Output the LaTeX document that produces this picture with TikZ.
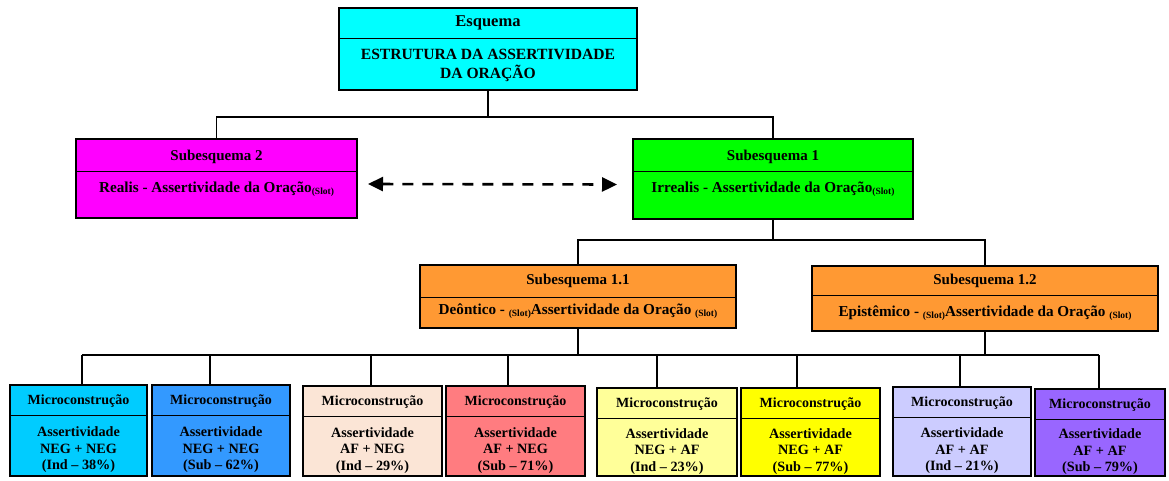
\documentclass[tikz,border=0pt]{standalone}
\usepackage{fontspec}
\setmainfont{Liberation Serif}
\usetikzlibrary{arrows.meta}
\definecolor{cEsq}{HTML}{00FFFF}
\definecolor{cSubB}{HTML}{FF00FF}
\definecolor{cSubA}{HTML}{00FF00}
\definecolor{cOr}{HTML}{FF9933}
\definecolor{cMa}{HTML}{00CCFF}
\definecolor{cMb}{HTML}{3399FF}
\definecolor{cMc}{HTML}{FBE5D6}
\definecolor{cMd}{HTML}{FF7C80}
\definecolor{cMe}{HTML}{FFFF99}
\definecolor{cMf}{HTML}{FFFF00}
\definecolor{cMg}{HTML}{CCCCFF}
\definecolor{cMh}{HTML}{9966FF}
\newcommand\slotsub{\raisebox{-2.4pt}{\fontsize{9.5}{9.5}\selectfont(Slot)}}
\tikzset{
  frame/.style={draw=black, line width=2.6pt, inner sep=0pt, outer sep=0pt, anchor=north west},
  divider/.style={line width=0.9pt},
  conn/.style={line width=1.7pt},
  ttl/.style={font=\bfseries\fontsize{15}{18}\selectfont, inner sep=0pt, align=center},
  bod/.style={font=\bfseries\fontsize{15.2}{19}\selectfont, inner sep=0pt, align=center},
  mttl/.style={font=\bfseries\fontsize{14}{16}\selectfont, inner sep=0pt, align=center},
  mbod/.style={font=\bfseries\fontsize{14.2}{16.5}\selectfont, inner sep=0pt, align=center},
}
\begin{document}
\begin{tikzpicture}[x=1pt,y=-1pt]
\useasboundingbox (0,0) rectangle (1169,480);

% Esquema
\node[frame, fill=cEsq, minimum width=298pt, minimum height=82pt] (esq) at (339,8) {};
\draw[divider] ([yshift=-30pt]esq.north west) -- ([yshift=-30pt]esq.north east);
\node[ttl, font=\bfseries\fontsize{16.5}{18}\selectfont] (esqT) at ([yshift=-15pt]esq.north) {Esquema};
\node[bod, font=\bfseries\fontsize{15.6}{19}\selectfont] (esqB) at ([yshift=-57pt]esq.north) {ESTRUTURA DA ASSERTIVIDADE\\DA ORAÇÃO};

% Subesquema 2
\node[frame, fill=cSubB, minimum width=281pt, minimum height=79pt] (sub2) at (76,139) {};
\draw[divider] ([yshift=-32pt]sub2.north west) -- ([yshift=-32pt]sub2.north east);
\node[ttl] (sub2T) at ([yshift=-18pt]sub2.north) {Subesquema 2};
\node[bod] (sub2B) at ([yshift=-50pt]sub2.north) {Realis - Assertividade da Oração\slotsub};

% Subesquema 1
\node[frame, fill=cSubA, minimum width=280pt, minimum height=80pt] (sub1) at (633,139) {};
\draw[divider] ([yshift=-32pt]sub1.north west) -- ([yshift=-32pt]sub1.north east);
\node[ttl] (sub1T) at ([yshift=-18pt]sub1.north) {Subesquema 1};
\node[bod] (sub1B) at ([yshift=-50pt]sub1.north) {Irrealis - Assertividade da Oração\slotsub};

% Subesquema 1.1
\node[frame, fill=cOr, minimum width=316pt, minimum height=63pt] (s11) at (420,265) {};
\draw[divider] ([yshift=-32pt]s11.north west) -- ([yshift=-32pt]s11.north east);
\node[ttl] (s11T) at ([yshift=-16pt]s11.north) {Subesquema 1.1};
\node[bod] (s11B) at ([yshift=-46pt]s11.north) {Deôntico - \slotsub Assertividade da Oração \slotsub};

% Subesquema 1.2
\node[frame, fill=cOr, minimum width=346pt, minimum height=65pt] (s12) at (812,266) {};
\draw[divider] ([yshift=-29pt]s12.north west) -- ([yshift=-29pt]s12.north east);
\node[ttl] (s12T) at ([yshift=-15pt]s12.north) {Subesquema 1.2};
\node[bod] (s12B) at ([yshift=-47pt]s12.north) {Epistêmico - \slotsub Assertividade da Oração \slotsub};

% Microconstructions
\foreach \i/\xa/\xb/\yt/\col/\lb/\lc/\dx in {
  1/10/147/385/cMa/{NEG + NEG}/{(Ind – 38\%)}/82,
  2/152/290/385/cMb/{NEG + NEG}/{(Sub – 62\%)}/210,
  3/303/442/386/cMc/{AF + NEG}/{(Ind – 29\%)}/371,
  4/446/585/386/cMd/{AF + NEG}/{(Sub – 71\%)}/508,
  5/597/737/388/cMe/{NEG + AF}/{(Ind – 23\%)}/657,
  6/741/880/388/cMf/{NEG + AF}/{(Sub – 77\%)}/797,
  7/893/1031/387/cMg/{AF + AF}/{(Ind – 21\%)}/960,
  8/1035/1165/389/cMh/{AF + AF}/{(Sub – 79\%)}/1099}{
  \pgfmathsetmacro\w{\xb-\xa}
  \pgfmathsetmacro\h{476-\yt}
  \node[frame, fill=\col, minimum width=\w pt, minimum height=\h pt] (m\i) at (\xa,\yt) {};
  \draw[divider] ([yshift=-30pt]m\i.north west) -- ([yshift=-30pt]m\i.north east);
  \node[mttl] (m\i T) at ([yshift=-16pt]m\i.north) {Microconstrução};
  \node[mbod] (m\i B) at ([yshift={-(476-\yt+30)/2-4.5}]m\i.north) {Assertividade\\\lb\\\lc};
  \coordinate (d\i) at (\dx,355);
  \draw[conn] (d\i) -- (m\i.north -| d\i);
}

% Connectors
\coordinate (j1) at (esq.south |- 0,117);
\draw[conn] (esq.south) -- (j1);
\draw[conn] (sub2.north) |- (j1) -| (sub1.north);

\coordinate (j2) at (sub1.south |- 0,240);
\draw[conn] (sub1.south) -- (j2);
\draw[conn] (s11.north) |- (j2) -| (s12.north);

\draw[conn] (d1) -- (d8);
\draw[conn] (s11.south) -- (s11.south |- d1);
\draw[conn] (s12.south) -- (s12.south |- d1);

% Dashed double arrow
\draw[line width=2.6pt, dash pattern=on 11pt off 9pt,
  {Triangle[length=15pt,width=14pt]}-{Triangle[length=15pt,width=14pt]}]
  ([shift={(11pt,-5.5pt)}]sub2.east) -- ([shift={(-16pt,-5.5pt)}]sub1.west);
\end{tikzpicture}
\end{document}
